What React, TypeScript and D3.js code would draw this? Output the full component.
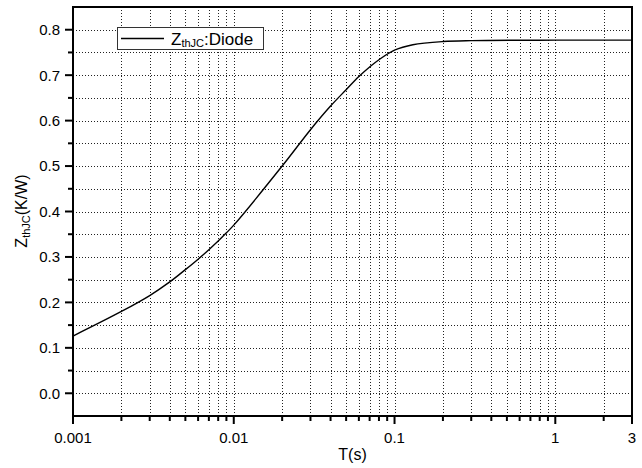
import React from 'react';
import * as d3 from 'd3';

// Z_thJC transient thermal impedance of the diode
const times = [0.001, 0.002, 0.003, 0.004, 0.005, 0.006, 0.007, 0.008, 0.009, 0.01,
  0.02, 0.03, 0.04, 0.05, 0.06, 0.07, 0.08, 0.1, 0.13, 0.2, 0.3, 1, 3];
const zth = [0.126, 0.180, 0.215, 0.245, 0.272, 0.295, 0.316, 0.335, 0.353, 0.370,
  0.50, 0.58, 0.632, 0.668, 0.697, 0.718, 0.734, 0.755, 0.767, 0.774, 0.776, 0.777, 0.777];

const xMajor = [0.001, 0.01, 0.1, 1, 3];
const xMajorLabels = ['0.001', '0.01', '0.1', '1', '3'];
const yMajor = [0.0, 0.1, 0.2, 0.3, 0.4, 0.5, 0.6, 0.7, 0.8];

const W = 642;
const H = 468;
const margin = { top: 7, right: 10, bottom: 52, left: 73 };

export default function App() {
  const x = d3.scaleLog().domain([0.001, 3]).range([margin.left, W - margin.right]);
  const y = d3.scaleLinear().domain([-0.05, 0.85]).range([H - margin.bottom, margin.top]);

  // minor log ticks 2..9 in each decade
  const xMinor: number[] = [];
  [0.001, 0.01, 0.1, 1].forEach((d) => {
    for (let k = 2; k <= 9; k++) {
      const v = +(k * d).toPrecision(3);
      if (v < 3) xMinor.push(v);
    }
  });
  const yMinor = d3.range(0, 9).map((i) => +(i * 0.1 + 0.05).toFixed(2)).filter((v) => v < 0.85);
  const xGrid = [...xMinor, 0.01, 0.1, 1];
  const yGrid = [...yMajor, ...yMinor];

  const pts = times.map((t, i) => [t, zth[i]] as [number, number]);
  const path = d3.line<[number, number]>()
    .x((d) => x(d[0]))
    .y((d) => y(d[1]))
    .curve(d3.curveCatmullRom.alpha(0.5))(pts) || '';

  const x0 = x.range()[0];
  const x1 = x.range()[1];
  const yb = y.range()[0];
  const yt = y.range()[1];
  const font = 'Arial, "Liberation Sans", sans-serif';

  return (
    <svg width={W} height={H} style={{ position: 'absolute', left: 0, top: 0 }} fontFamily={font}>
      <rect x={0} y={0} width={W} height={H} fill="#fff" />
      {/* grid */}
      <g stroke="#222" strokeWidth={1} strokeDasharray="1 2">
        {xGrid.map((v) => (
          <line key={'gx' + v} x1={Math.round(x(v)) + 0.5} x2={Math.round(x(v)) + 0.5} y1={yt} y2={yb} />
        ))}
        {yGrid.map((v) => (
          <line key={'gy' + v} x1={x0} x2={x1} y1={Math.round(y(v)) + 0.5} y2={Math.round(y(v)) + 0.5} />
        ))}
      </g>

      {/* curve */}
      <path d={path} fill="none" stroke="#000" strokeWidth={1.4} />

      {/* frame */}
      <rect x={x0} y={yt} width={x1 - x0} height={yb - yt} fill="none" stroke="#000" strokeWidth={2} />

      {/* ticks */}
      <g stroke="#000" strokeWidth={2}>
        {xMajor.map((v) => (
          <line key={'xt' + v} x1={x(v)} x2={x(v)} y1={yb} y2={yb + 8} />
        ))}
        {xMinor.map((v) => (
          <line key={'xm' + v} x1={x(v)} x2={x(v)} y1={yb} y2={yb + 5} />
        ))}
        {yMajor.map((v) => (
          <line key={'yt' + v} x1={x0 - 8} x2={x0} y1={y(v)} y2={y(v)} />
        ))}
        {yMinor.map((v) => (
          <line key={'ym' + v} x1={x0 - 5} x2={x0} y1={y(v)} y2={y(v)} />
        ))}
      </g>
      <g fontSize={15} fill="#000">
        {xMajor.map((v, i) => (
          <text key={'xl' + v} x={x(v)} y={yb + 27} textAnchor={i === xMajor.length - 1 ? 'end' : 'middle'}
            dx={i === xMajor.length - 1 ? 4 : 0}>
            {xMajorLabels[i]}
          </text>
        ))}
        {yMajor.map((v) => (
          <text key={'yl' + v} x={x0 - 13} y={y(v)} dy="0.36em" textAnchor="end">
            {v.toFixed(1)}
          </text>
        ))}
      </g>

      {/* axis titles */}
      <text x={(x0 + x1) / 2} y={460} textAnchor="middle" fontSize={16}>T(s)</text>
      <text transform={`translate(27,211) rotate(-90)`} textAnchor="middle" fontSize={16}>
        Z<tspan fontSize={11} dy={3}>thJC</tspan><tspan dy={-3}>(K/W)</tspan>
      </text>

      {/* legend */}
      <rect x={117.5} y={27.5} width={146} height={22} fill="#fff" stroke="#333" strokeWidth={1} />
      <line x1={121} x2={164} y1={38.5} y2={38.5} stroke="#000" strokeWidth={1.4} />
      <text x={171} y={45} fontSize={17}>
        Z<tspan fontSize={11} dy={2}>thJC</tspan><tspan dy={-2}>:Diode</tspan>
      </text>
    </svg>
  );
}
